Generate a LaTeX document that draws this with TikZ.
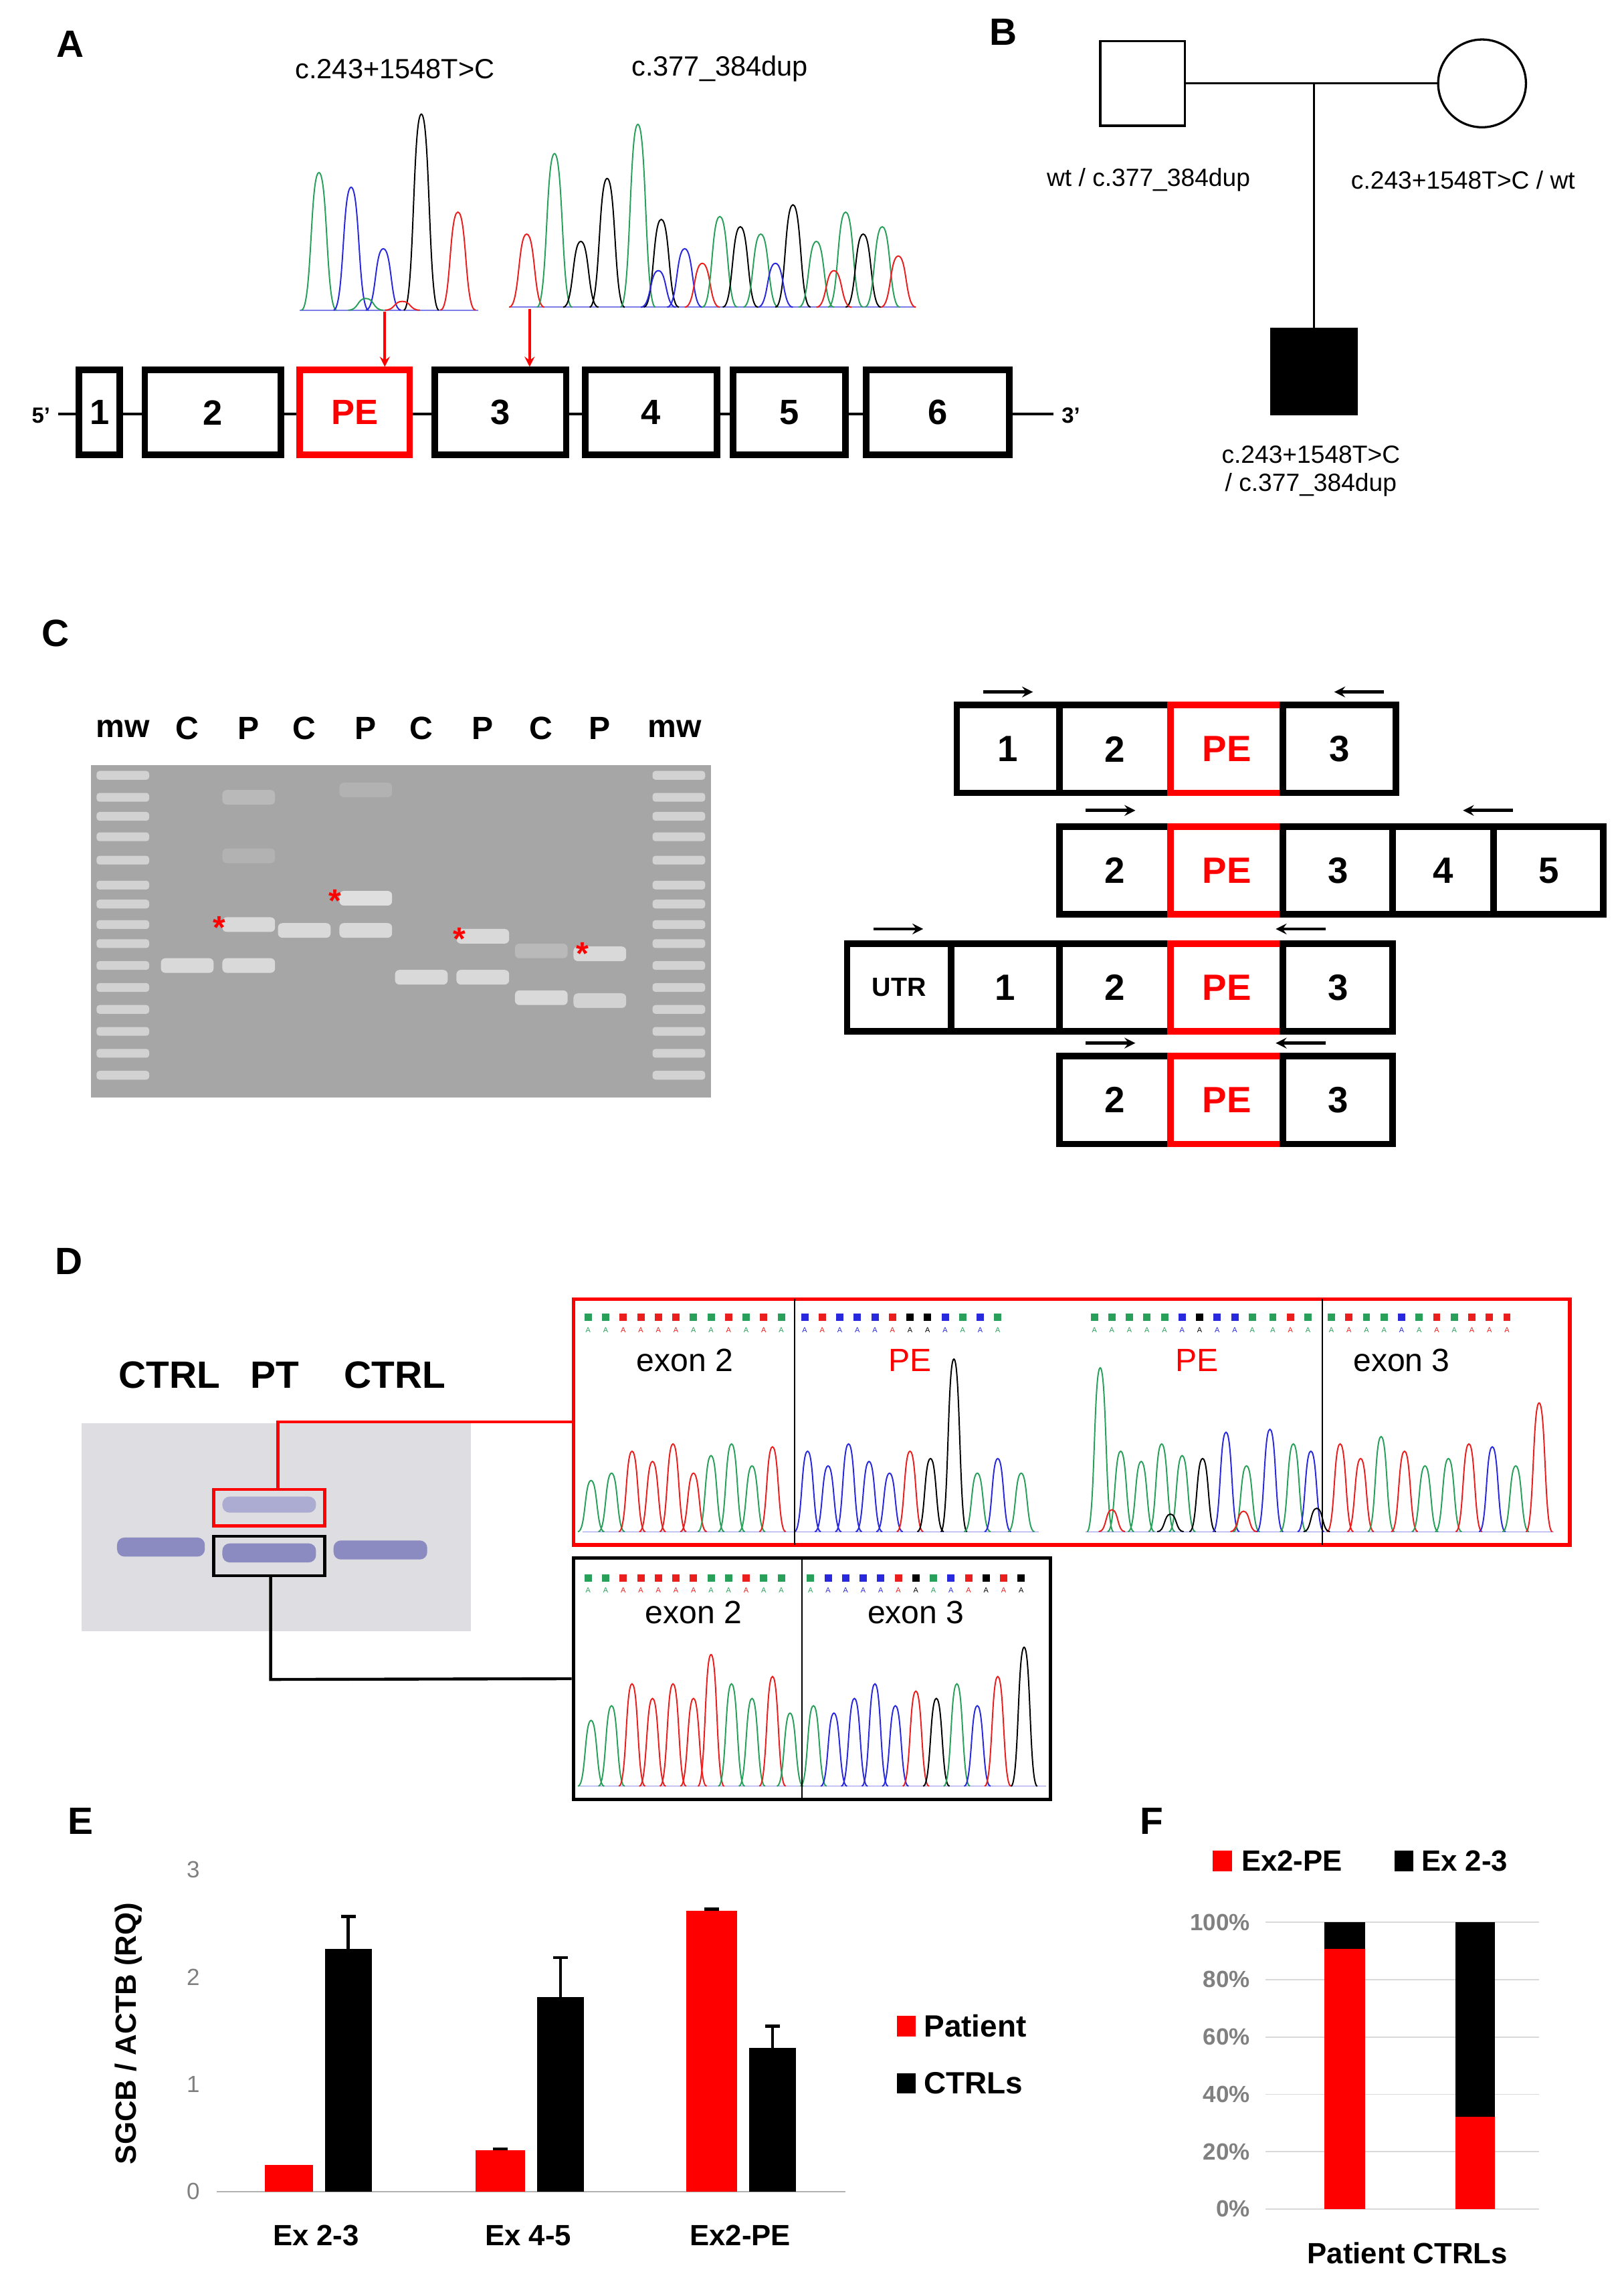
\documentclass[tikz,border=0pt]{standalone}
\usepackage{fontspec}
\setmainfont{Liberation Sans}
\begin{document}
\begin{tikzpicture}[x=1pt,y=-1pt,
  lbl/.style={font=\fontsize{26}{28}\selectfont\bfseries},
  ex/.style={draw=black,fill=white,line width=4.5pt,minimum height=58pt,inner sep=0pt,font=\fontsize{24}{26}\selectfont\bfseries},
  exr/.style={ex,draw=red,text=red},
  tx/.style={font=\fontsize{19}{21}\selectfont},
  arr/.style={-stealth,line width=2.2pt}]
\useasboundingbox (0,0) rectangle (1110,1564);
\def\pw{12}
\newcommand\pk[4]{\draw[#4,line width=0.9pt] ({#1-\pw},#2) .. controls ({#1-0.4*\pw},#2) and ({#1-0.5*\pw},{#2-#3}) .. (#1,{#2-#3}) .. controls ({#1+0.5*\pw},{#2-#3}) and ({#1+0.4*\pw},#2) .. ({#1+\pw},#2);}
\definecolor{cg}{RGB}{40,160,90}
\definecolor{cb}{RGB}{40,40,220}
\definecolor{cr}{RGB}{235,30,30}
% ===== A
\node[lbl] (A) at (48,30) {A};
\node[tx] (m1) at (270,47) {c.243+1548T>C};
\node[tx] (m2) at (492,47) {c.377\_384dup};
\draw[cb!60,line width=0.8pt] (205,212) -- (327,212);
\foreach \x/\h/\c in {218/94/cg,240/84/cb,262/42/cb,288/134/black,313/67/cr,250/8/cg,275/6/cr}{\pk{\x}{212}{\h}{\c}}
\draw[cb!60,line width=0.8pt] (348,210) -- (626,210);
\foreach \x/\h/\c in {360/50/cr,379/105/cg,397/45/black,415/88/black,436/125/cg,452/60/black,468/40/cb,480/30/cr,492/62/cg,506/55/black,520/50/cg,542/70/black,558/45/cg,578/65/cg,590/50/black,603/55/cg,614/35/cr,450/25/cb,530/30/cb,570/25/cr}{\pk{\x}{210}{\h}{\c}}
\draw[line width=1.5pt] (40,283) -- (720,283);
\node[ex,minimum width=28pt] (e1) at (68,282) {1};
\node[ex,minimum width=93pt] (e2) at (145.5,282) {2};
\node[exr,minimum width=75pt] (pe) at (242.5,282) {PE};
\node[ex,minimum width=90pt] (e3) at (342,282) {3};
\node[ex,minimum width=90pt] (e4) at (445,282) {4};
\node[ex,minimum width=77pt] (e5) at (539.5,282) {5};
\node[ex,minimum width=98pt] (e6) at (641,282) {6};
\node[font=\fontsize{15}{17}\selectfont\bfseries] (p5) at (28,284) {5'};
\node[font=\fontsize{15}{17}\selectfont\bfseries] (p3) at (732,284) {3'};
\coordinate (a1) at (263,213); \coordinate (a2) at (362,211);
\draw[-stealth,red,line width=2pt] (a1) -- (pe.north -| a1);
\draw[-stealth,red,line width=2pt] (a2) -- (e3.north -| a2);
% ===== B
\node[lbl] (B) at (686,22) {B};
\node[draw,line width=1.5pt,minimum size=58pt,inner sep=0pt] (fa) at (781,57) {};
\node[draw,circle,line width=1.5pt,minimum size=60pt,inner sep=0pt] (mo) at (1013,57) {};
\node[fill=black,minimum size=60pt,inner sep=0pt] (ch) at (898,254) {};
\coordinate (mid) at (898,57);
\draw[line width=1.5pt] (fa) -- (mo);
\draw[line width=1.5pt] (mid) -- (ch);
\node[font=\fontsize{17}{19}\selectfont] (g1) at (785,123) {wt / c.377\_384dup};
\node[font=\fontsize{17}{19}\selectfont] (g2) at (1000,123) {c.243+1548T>C / wt};
\node[font=\fontsize{17}{19}\selectfont,align=center] (g3) at (896,322) {c.243+1548T>C\\ / c.377\_384dup};
% ===== C
\node[lbl] (C) at (38,433) {C};
\fill[gray!70] (62,523) rectangle (486,750);
\foreach \y in {530,545,558,572,588,605,618,632,645,660,675,690,705,720,735}{
  \fill[gray!35,rounded corners=2pt] (66,\y-3) rectangle (102,\y+3);
  \fill[gray!35,rounded corners=2pt] (446,\y-3) rectangle (482,\y+3);}
\foreach \x/\y/\o in {128/660/30,170/632/30,170/660/30,170/545/55,170/585/60,208/636/30,250/614/25,250/636/30,250/540/60,288/668/30,330/640/30,330/668/30,370/682/30,370/650/55,410/652/30,410/684/35}{
  \fill[gray!\o,rounded corners=3pt] (\x-18,\y-5) rectangle (\x+18,\y+5);}
\foreach \x/\y in {150/630,229/612,314/638,398/648}{\node[red,font=\fontsize{22}{22}\selectfont\bfseries] at (\x,\y+4) {*};}
\foreach \x/\t in {84/mw,128/C,170/P,208/C,250/P,288/C,330/P,370/C,410/P,461/mw}{
  \node[font=\fontsize{\ifx\t mw 16\else 22\fi}{22}\selectfont\bfseries] at (\x,498) {\t};}
\tikzset{cx/.style={ex,minimum height=60pt,font=\fontsize{25}{27}\selectfont\bfseries},cxr/.style={cx,draw=red,text=red}}
\node[cx,minimum width=70pt] (r1a) at (689,512) {1};
\node[cx,minimum width=76pt] (r1b) at (762,512) {2};
\node[cxr,minimum width=77pt] (r1c) at (838.5,512) {PE};
\node[cx,minimum width=77pt] (r1d) at (915.5,512) {3};
\node[cx,minimum width=76pt] (r2a) at (762,595) {2};
\node[cxr,minimum width=77pt] (r2b) at (838.5,595) {PE};
\node[cx,minimum width=75pt] (r2c) at (914.5,595) {3};
\node[cx,minimum width=69pt] (r2d) at (986.5,595) {4};
\node[cx,minimum width=75pt] (r2e) at (1058.5,595) {5};
\node[cx,minimum width=71pt,font=\fontsize{18}{20}\selectfont\bfseries] (r3u) at (614.5,675) {UTR};
\node[cx,minimum width=74pt] (r3a) at (687,675) {1};
\node[cx,minimum width=76pt] (r3b) at (762,675) {2};
\node[cxr,minimum width=77pt] (r3c) at (838.5,675) {PE};
\node[cx,minimum width=75pt] (r3d) at (914.5,675) {3};
\node[cx,minimum width=76pt] (r4a) at (762,752) {2};
\node[cxr,minimum width=77pt] (r4b) at (838.5,752) {PE};
\node[cx,minimum width=75pt] (r4c) at (914.5,752) {3};
\foreach \a/\b/\y in {672/706/473,742/776/554,597/631/635,742/776/713,946/912/473,1034/1000/554,906/872/635,906/872/713}{\coordinate (s\a\y) at (\a,\y); \coordinate (t\a\y) at (\b,\y); \draw[arr] (s\a\y) -- (t\a\y);}
% ===== D
\node[lbl] (D) at (47,862) {D};
\foreach \x/\t in {116/CTRL,188/PT,270/CTRL}{\node[font=\fontsize{26}{28}\selectfont\bfseries] at (\x,940) {\t};}
\fill[blue!8!gray!25] (56,973) rectangle (322,1115);
\fill[blue!30!gray!70,rounded corners=5pt] (80,1051) rectangle (140,1064);
\fill[blue!30!gray!50,rounded corners=5pt] (152,1023) rectangle (216,1034);
\fill[blue!30!gray!70,rounded corners=5pt] (152,1055) rectangle (216,1068);
\fill[blue!30!gray!70,rounded corners=5pt] (228,1053) rectangle (292,1066);
\node[draw=red,line width=2pt,minimum width=76pt,minimum height=25pt,inner sep=0pt] (rb) at (184,1030.5) {};
\node[draw=black,line width=2pt,minimum width=76pt,minimum height=27pt,inner sep=0pt] (kb) at (184,1063.5) {};
\node[draw=red,line width=2.5pt,minimum width=681pt,minimum height=168pt,inner sep=0pt] (RB) at (732.5,972) {};
\node[draw=black,line width=2.5pt,minimum width=326pt,minimum height=165pt,inner sep=0pt] (KB) at (555,1147.5) {};
\coordinate (rt) at (190,972); \coordinate (kt) at (185,1148);
\draw[red,line width=2pt] (rb.north -| rt) -- (rt) -- (RB.west);
\draw[black,line width=2pt] (kb.south -| kt) -- (kt) -- (KB.west);
\def\pw{9}
\draw[cb!50,line width=0.6pt] (398,1047) -- (710,1047);
\foreach \x/\h/\c in {404/35/cg,418/40/cg,432/55/cr,446/48/cr,460/60/cr,474/40/cr,486/52/cg,500/60/cg,514/45/cg,528/58/cr,552/55/cb,566/45/cb,580/60/cb,594/48/cb,608/40/cb,622/55/cr,636/50/black,652/118/black,668/40/cg,682/50/cb,698/40/cg}{\pk{\x}{1047}{\h}{\c}}
\draw[cb!50,line width=0.6pt] (742,1047) -- (1062,1047);
\foreach \x/\h/\c in {752/112/cg,766/55/cg,780/48/cg,794/60/cg,808/52/cg,822/50/black,838/68/cb,852/45/cg,868/70/cb,884/60/cg,896/55/cb,916/60/cr,930/50/cr,944/65/cg,960/55/cr,974/45/cg,990/50/cg,1004/60/cr,1020/58/cb,1036/45/cg,1052/88/cr,760/15/cr,800/12/black,850/14/cr,900/16/black}{\pk{\x}{1047}{\h}{\c}}
\draw[line width=1pt] (543,888) -- (543,1056);
\draw[line width=1pt] (904,888) -- (904,1056);
\foreach \x/\c in {402/cg,414/cg,426/cr,438/cr,450/cr,462/cr,474/cg,486/cg,498/cr,510/cg,522/cr,534/cg,550/cb,562/cr,574/cb,586/cb,598/cb,610/cr,622/black,634/black,646/cb,658/cg,670/cb,682/cg,748/cg,760/cg,772/cg,784/cg,796/cg,808/cb,820/black,832/cb,844/cb,856/cg,870/cg,882/cr,894/cg,910/cg,922/cr,934/cg,946/cg,958/cb,970/cg,982/cr,994/cg,1006/cr,1018/cr,1030/cr}{\fill[\c] (\x-2.5,898) rectangle (\x+2.5,903);\node[\c,font=\fontsize{5}{5}\selectfont] at (\x,909) {A};}
\node[font=\fontsize{22}{24}\selectfont] (t1) at (468,930) {exon 2};
\node[red,font=\fontsize{22}{24}\selectfont] (t2) at (622,930) {PE};
\node[red,font=\fontsize{22}{24}\selectfont] (t3) at (818,930) {PE};
\node[font=\fontsize{22}{24}\selectfont] (t4) at (958,930) {exon 3};
\draw[cb!50,line width=0.6pt] (396,1221) -- (715,1221);
\foreach \x/\h/\c in {404/45/cg,418/55/cg,432/70/cr,446/60/cr,460/70/cr,474/60/cr,486/90/cr,500/70/cg,514/60/cg,528/75/cr,540/50/cg,556/55/cg,570/50/cb,584/60/cb,598/70/cb,612/55/cb,626/65/cr,640/60/black,654/70/cg,668/55/cb,682/75/cr,700/95/black}{\pk{\x}{1221}{\h}{\c}}
\draw[line width=1pt] (548,1065) -- (548,1230);
\foreach \x/\c in {402/cg,414/cg,426/cr,438/cr,450/cr,462/cr,474/cr,486/cg,498/cg,510/cr,522/cg,534/cg,554/cg,566/cb,578/cb,590/cb,602/cb,614/cr,626/black,638/cg,650/cb,662/cr,674/black,686/cr,698/black}{\fill[\c] (\x-2.5,1076) rectangle (\x+2.5,1081);\node[\c,font=\fontsize{5}{5}\selectfont] at (\x,1087) {A};}
\node[font=\fontsize{22}{24}\selectfont] (t5) at (474,1102) {exon 2};
\node[font=\fontsize{22}{24}\selectfont] (t6) at (626,1102) {exon 3};
% ===== E
\node[lbl] (E) at (55,1245) {E};
\node[rotate=90,font=\fontsize{20}{22}\selectfont\bfseries] (yl) at (88,1390) {SGCB / ACTB (RQ)};
\foreach \v in {0,1,2,3}{\node[gray,font=\fontsize{16}{18}\selectfont] at (132,{1498-73.3*\v}) {\v};}
\draw[gray!60,line width=1pt] (148,1498) -- (578,1498);
\foreach \a/\b/\t/\c in {181/214/1480/red,222/254/1332/black,325/359/1470/red,367/399/1365/black,469/504/1306/red,512/544/1400/black}{\fill[\c] (\a,\t) rectangle (\b,1498);}
\foreach \x/\t/\e in {238/1332/1310,383/1365/1338,528/1400/1385,342/1470/1469,486.5/1306/1305}{\draw[line width=2pt] (\x,\t) -- (\x,\e) (\x-5,\e) -- (\x+5,\e);}
\foreach \x/\t in {216/Ex 2-3,361/Ex 4-5,506/Ex2-PE}{\node[font=\fontsize{20}{22}\selectfont\bfseries] at (\x,1528) {\t};}
\fill[red] (613,1378) rectangle (626,1392);
\node[anchor=west,font=\fontsize{21}{23}\selectfont\bfseries] at (628,1385) {Patient};
\fill[black] (613,1417) rectangle (626,1431);
\node[anchor=west,font=\fontsize{21}{23}\selectfont\bfseries] at (628,1424) {CTRLs};
% ===== F
\node[lbl] (F) at (787,1245) {F};
\fill[red] (829,1265) rectangle (842,1279);
\node[anchor=west,font=\fontsize{20}{22}\selectfont\bfseries] at (845,1272) {Ex2-PE};
\fill[black] (953,1265) rectangle (966,1279);
\node[anchor=west,font=\fontsize{20}{22}\selectfont\bfseries] at (968,1272) {Ex 2-3};
\foreach \i in {0,...,5}{
  \draw[gray!30,line width=0.8pt] (865,{1510-39.2*\i}) -- (1052,{1510-39.2*\i});
  \node[gray,font=\fontsize{16}{18}\selectfont\bfseries,anchor=east] at (858,{1510-39.2*\i}) {\the\numexpr\i*20\relax\%};}
\fill[red] (905,1332) rectangle (933,1510);
\fill[black] (905,1314) rectangle (933,1332);
\fill[red] (995,1447) rectangle (1022,1510);
\fill[black] (995,1314) rectangle (1022,1447);
\node[font=\fontsize{20}{22}\selectfont\bfseries] at (962,1540) {Patient CTRLs};
\end{tikzpicture}
\end{document}
